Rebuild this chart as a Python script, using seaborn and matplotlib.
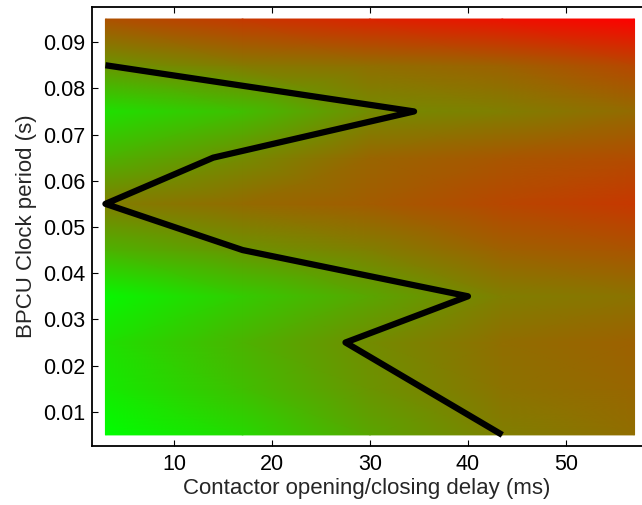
import numpy as np
import pandas as pd
import matplotlib
matplotlib.use("Agg")
import matplotlib.pyplot as plt
import seaborn as sns
from matplotlib.colors import LinearSegmentedColormap

sns.set_style("ticks")
plt.rcParams['font.family'] = ['Liberation Sans', 'DejaVu Sans']

# zigzag curve
delay_ms = [3.0, 34.5, 14.0, 3.0, 17.0, 40.0, 27.5, 43.5]
period_s = [0.085, 0.075, 0.065, 0.055, 0.045, 0.035, 0.025, 0.005]

# background surface (0 = green, 1 = red), read at grid nodes
grid_x = [3.0, 17.0, 30.0, 43.5, 57.0]
grid_y = [0.005, 0.015, 0.025, 0.035, 0.045, 0.055, 0.065, 0.075, 0.085, 0.095]
row_005 = [0.00, 0.15, 0.35, 0.50, 0.57]
row_015 = [0.08, 0.25, 0.42, 0.55, 0.60]
row_025 = [0.12, 0.30, 0.45, 0.57, 0.62]
row_035 = [0.03, 0.20, 0.35, 0.50, 0.55]
row_045 = [0.30, 0.42, 0.50, 0.62, 0.67]
row_055 = [0.50, 0.58, 0.64, 0.72, 0.78]
row_065 = [0.30, 0.45, 0.60, 0.66, 0.70]
row_075 = [0.12, 0.25, 0.45, 0.50, 0.58]
row_085 = [0.42, 0.52, 0.57, 0.62, 0.72]
row_095 = [0.68, 0.78, 0.86, 0.93, 1.00]
surface = np.array([row_005, row_015, row_025, row_035, row_045,
                    row_055, row_065, row_075, row_085, row_095])

x_ticks = [10, 20, 30, 40, 50]
y_ticks = [0.01, 0.02, 0.03, 0.04, 0.05, 0.06, 0.07, 0.08, 0.09]

fig = plt.figure(figsize=(6.42, 5.05), dpi=100)
ax = fig.add_axes([92 / 642, 1 - 446 / 505, 1 - 92 / 642, (446 - 7) / 505])

cmap = LinearSegmentedColormap.from_list("gr", ["#00ff00", "#ff0000"])
ax.pcolormesh(grid_x, grid_y, surface, shading="gouraud", cmap=cmap,
              vmin=0, vmax=1, zorder=1)

df = pd.DataFrame({"delay": delay_ms, "period": period_s})
sns.lineplot(data=df, x="delay", y="period", sort=False, estimator=None,
             color="black", linewidth=4.5, ax=ax, zorder=3)
ax.lines[-1].set_solid_capstyle("butt")

ax.set_xlim(1.63, 57.76)
ax.set_ylim(0.0026, 0.0976)
ax.set_xticks(x_ticks)
ax.set_yticks(y_ticks)
ax.set_yticklabels([f"{v:.2f}" for v in y_ticks])
ax.tick_params(direction="in", length=4, width=0.8, labelsize=15.5,
               top=True, colors="black")
ax.tick_params(axis="x", pad=6)
ax.tick_params(axis="y", pad=5)
ax.spines["right"].set_visible(False)
for s in ["left", "top", "bottom"]:
    ax.spines[s].set_linewidth(1.3)
    ax.spines[s].set_color("black")

ax.set_xlabel("Contactor opening/closing delay (ms)", fontsize=16, labelpad=2)
ax.set_ylabel("BPCU Clock period (s)", fontsize=16, labelpad=4)

fig.savefig("out.png", dpi=100)
